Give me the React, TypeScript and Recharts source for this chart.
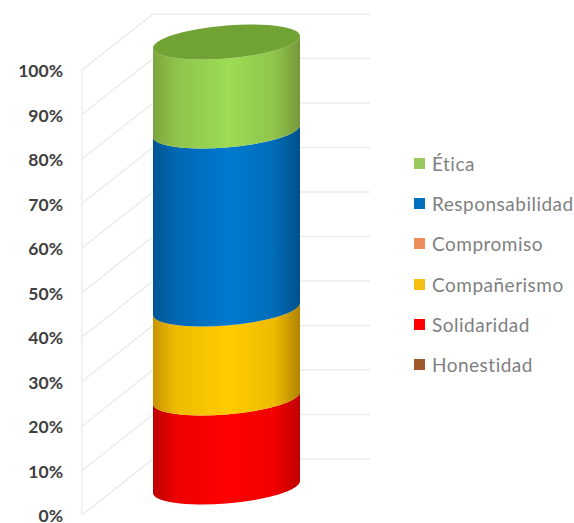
import { BarChart, Bar, XAxis, YAxis, CartesianGrid, Legend } from "recharts";

const CHART_WIDTH = 574;
const CHART_HEIGHT = 523;
const FONT = "Lato, 'Open Sans', sans-serif";

// Depth of the fake 3D box, and the tilt of the cylinder's ellipses
const DEPTH_X = 71;
const DEPTH_Y = 28;
const WALL_COLOR = "#ececec";
const ELLIPSE_RY = 16.5;
const ELLIPSE_SKEW = -4.6;

const CATEGORY = ["Valores"];
const Y_TICKS = [0, 10, 20, 30, 40, 50, 60, 70, 80, 90, 100];

// Stack order, bottom to top
const SERIES_KEYS = ["Honestidad", "Solidaridad", "Compañerismo", "Compromiso", "Responsabilidad", "Ética"];
const SERIES_VALUES = [0, 20, 20, 0, 40, 20];
const SERIES_COLORS = ["#a0582c", "#ff0000", "#f5bf12", "#ed8e5a", "#0070c0", "#9bc85a"];
// Shades across the cylinder wall, left edge to right edge
const SERIES_SHADES = [
  ["#7a4020", "#945028", "#a0582c", "#945028", "#7a4020"],
  ["#bd0000", "#ee0000", "#ff0000", "#f20000", "#c00000"],
  ["#c79400", "#efbc00", "#ffcc00", "#eebb00", "#b08400"],
  ["#b86a40", "#dc8252", "#ed8e5a", "#dc8252", "#b86a40"],
  ["#00558f", "#0068b4", "#007ad0", "#006cb8", "#00508a"],
  ["#7ea53c", "#8fc44c", "#9ddc54", "#90c64c", "#76983a"],
];
const SHADE_OFFSETS = ["0%", "16%", "52%", "82%", "100%"];

const LEGEND_ORDER = [...SERIES_KEYS].reverse();

const tableRow: Record<string, string | number> = { name: CATEGORY[0] };
SERIES_KEYS.forEach((key, i) => {
  tableRow[key] = SERIES_VALUES[i];
});
const tableData = [tableRow];

function CylinderSegment({ x, y, width, height, index, capped }: any) {
  if (!height || height <= 0) return null;
  const rx = width / 2;
  const ry = ELLIPSE_RY;
  const bottom = y + height;
  const body = `M ${-rx} ${y} A ${rx} ${ry} 0 0 0 ${rx} ${y} L ${rx} ${bottom} A ${rx} ${ry} 0 0 1 ${-rx} ${bottom} Z`;
  return (
    <g transform={`translate(${x + rx} 0) skewY(${ELLIPSE_SKEW})`}>
      <path d={body} fill={`url(#wall-${index})`} />
      {capped && <ellipse cx={0} cy={y} rx={rx} ry={ry} fill="#70a234" />}
    </g>
  );
}

// Tick labels sit on the front edge of the box, not on the plot's own left side
function ShiftedTick({ x, y, payload }: any) {
  return (
    <text
      x={x - 11}
      y={y + DEPTH_Y + 3}
      textAnchor="end"
      dominantBaseline="middle"
      fontFamily={FONT}
      fontSize={17.5}
      fontWeight={700}
      fill="#404040"
    >
      {payload.value}%
    </text>
  );
}

function WallLine({ x1, y1, x2 }: any) {
  const frontY = y1 + DEPTH_Y;
  const backY = y1 - DEPTH_Y;
  return (
    <g fill="none" stroke={WALL_COLOR} strokeWidth={1.5}>
      <line x1={x1} y1={frontY} x2={x1 + DEPTH_X} y2={backY} />
      <line x1={x1 + DEPTH_X} y1={backY} x2={x2} y2={backY} />
    </g>
  );
}

function FrontEdge({ x1, y1, y2 }: any) {
  return <line x1={x1} y1={y1 + DEPTH_Y} x2={x1} y2={y2 + DEPTH_Y} stroke={WALL_COLOR} strokeWidth={1.5} />;
}

function SideLegend({ payload }: any) {
  const items = LEGEND_ORDER.map((name) => (payload ?? []).find((p: any) => p.value === name)).filter(Boolean);
  return (
    <div style={{ fontFamily: FONT, fontSize: 19, letterSpacing: 0.5, color: "#7f7f7f" }}>
      {items.map((item: any) => (
        <div key={item.value} style={{ display: "flex", alignItems: "center", height: 40.3 }}>
          <span
            style={{ display: "inline-block", width: 11, height: 11, marginRight: 7, backgroundColor: item.color }}
          />
          {item.value}
        </div>
      ))}
    </div>
  );
}

export default function App() {
  return (
    <div style={{ position: "absolute", left: 0, top: 0 }}>
      <BarChart
        width={CHART_WIDTH}
        height={CHART_HEIGHT}
        data={tableData}
        margin={{ top: 42, right: 204, bottom: 36, left: 0 }}
      >
        <defs>
          {SERIES_SHADES.map((shades, i) => (
            <linearGradient key={SERIES_KEYS[i]} id={`wall-${i}`} x1="0" y1="0" x2="1" y2="0">
              {shades.map((shade, s) => (
                <stop key={SHADE_OFFSETS[s]} offset={SHADE_OFFSETS[s]} stopColor={shade} />
              ))}
            </linearGradient>
          ))}
        </defs>
        <CartesianGrid
          horizontal={(props: any) => <WallLine key={props.key ?? props.y1} {...props} />}
          vertical={(props: any) => <FrontEdge key={props.key ?? props.x1} {...props} />}
          verticalPoints={[82]}
          syncWithTicks={false}
        />
        <XAxis dataKey="name" hide />
        <YAxis
          width={82}
          domain={[0, 100]}
          ticks={Y_TICKS}
          interval={0}
          axisLine={false}
          tickLine={false}
          tick={<ShiftedTick />}
        />
        <Legend
          layout="vertical"
          align="center"
          verticalAlign="middle"
          itemSorter={null}
          wrapperStyle={{ left: 414, top: 143, width: 160 }}
          content={<SideLegend />}
        />
        {SERIES_KEYS.map((key, i) => (
          <Bar
            key={key}
            dataKey={key}
            stackId="cylinder"
            barSize={147}
            fill={SERIES_COLORS[i]}
            isAnimationActive={false}
            shape={(props: any) => <CylinderSegment {...props} index={i} capped={i === SERIES_KEYS.length - 1} />}
          />
        ))}
      </BarChart>
    </div>
  );
}
